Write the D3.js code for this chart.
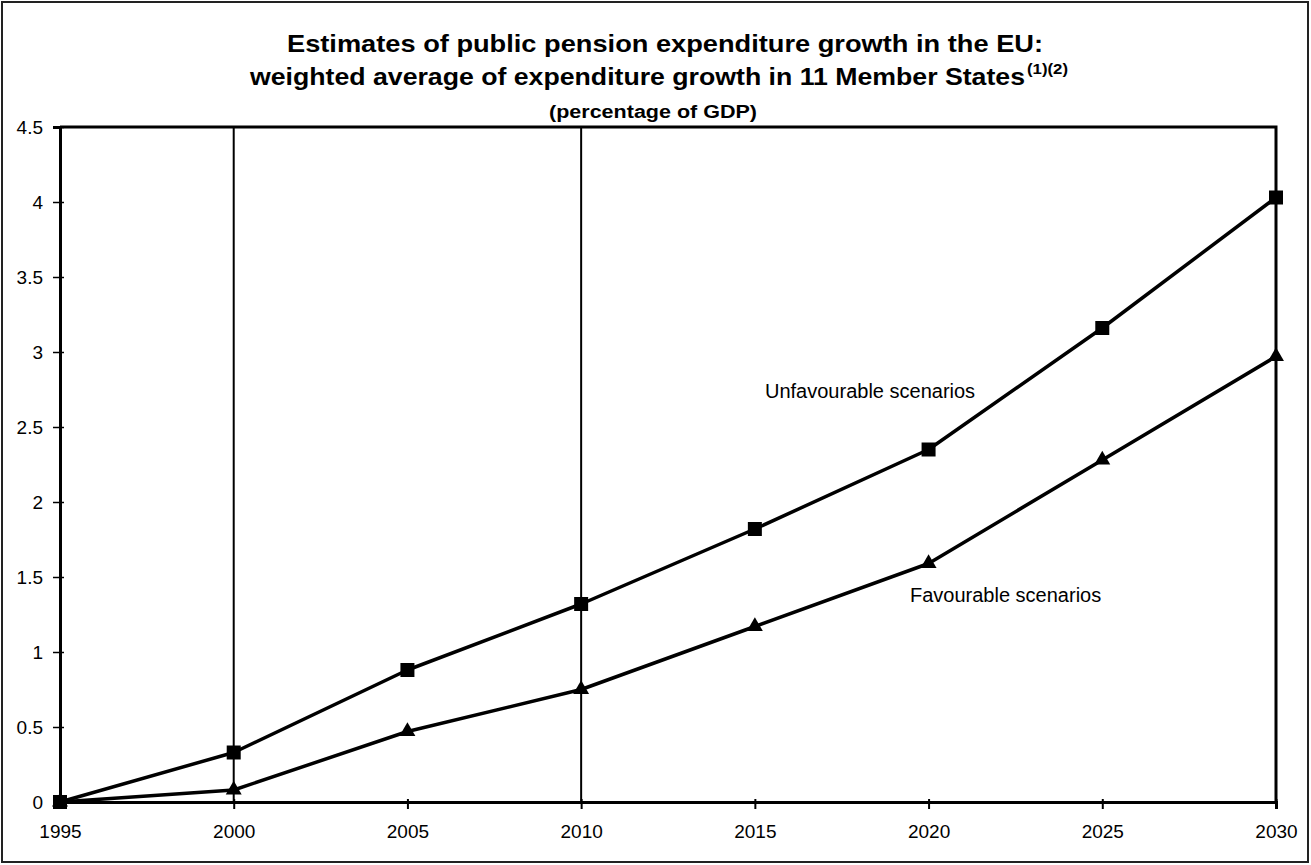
<!DOCTYPE html>
<html>
<head>
<meta charset="utf-8">
<script src="https://cdn.jsdelivr.net/npm/d3@7"></script>
<style>
  html, body { margin: 0; padding: 0; background: #fff; }
  svg { display: block; }
  text { font-family: Arial, "Liberation Sans", sans-serif; fill: #000; }
</style>
</head>
<body>
<svg id="chart" width="1311" height="865"></svg>
<script>
// Years on the horizontal axis
const years = [1995, 2000, 2005, 2010, 2015, 2020, 2025, 2030];
// Expenditure growth, percentage of GDP
const unfavourable = [0, 0.33, 0.88, 1.32, 1.82, 2.35, 3.16, 4.03];
const favourable   = [0, 0.08, 0.47, 0.75, 1.17, 1.59, 2.28, 2.97];
const yTicks = [0, 0.5, 1, 1.5, 2, 2.5, 3, 3.5, 4, 4.5];
const gridYears = [2000, 2010];

const svg = d3.select("#chart");
const W = 1311, H = 865;
const margin = { left: 60, right: 35, top: 127, bottom: 63 };

// outer frame
svg.append("rect")
  .attr("x", 2).attr("y", 2).attr("width", W - 5).attr("height", H - 5)
  .attr("fill", "#fff").attr("stroke", "#222").attr("stroke-width", 2);

const x = d3.scalePoint().domain(years).range([margin.left, W - margin.right]);
const y = d3.scaleLinear().domain([0, 4.5]).range([H - margin.bottom, margin.top]);

// titles
const t1 = svg.append("text").attr("x", 665).attr("y", 52)
  .attr("text-anchor", "middle").attr("font-weight", "bold").attr("font-size", 24)
  .attr("textLength", 756).attr("lengthAdjust", "spacingAndGlyphs")
  .text("Estimates of public pension expenditure growth in the EU:");
svg.append("text").attr("x", 250).attr("y", 85)
  .attr("font-weight", "bold").attr("font-size", 24)
  .attr("textLength", 775).attr("lengthAdjust", "spacingAndGlyphs")
  .text("weighted average of expenditure growth in 11 Member States");
svg.append("text").attr("x", 1027).attr("y", 74)
  .attr("font-weight", "bold").attr("font-size", 14)
  .attr("textLength", 41).attr("lengthAdjust", "spacingAndGlyphs")
  .text("(1)(2)");
svg.append("text").attr("x", 653).attr("y", 118)
  .attr("text-anchor", "middle").attr("font-weight", "bold").attr("font-size", 18)
  .attr("textLength", 208).attr("lengthAdjust", "spacingAndGlyphs")
  .text("(percentage of GDP)");

// vertical grid lines
svg.append("g").selectAll("line").data(gridYears).join("line")
  .attr("x1", d => x(d)).attr("x2", d => x(d))
  .attr("y1", y(4.5)).attr("y2", y(0))
  .attr("stroke", "#000").attr("stroke-width", 2);

// plot frame (top and right edges)
svg.append("path")
  .attr("d", `M${x(1995)},${y(4.5)}H${x(2030)}V${y(0)}`)
  .attr("fill", "none").attr("stroke", "#000").attr("stroke-width", 3);

// axes
const yAxis = svg.append("g").attr("transform", `translate(${margin.left},0)`)
  .call(d3.axisLeft(y).tickValues(yTicks).tickSize(7).tickPadding(9).tickFormat(d3.format("")));
yAxis.select(".domain").attr("stroke-width", 3).attr("stroke", "#000");
yAxis.selectAll(".tick line").attr("x2", 4).attr("x1", -7).attr("stroke-width", 1.5);
yAxis.selectAll(".tick text").attr("font-size", 19).attr("font-family", "Arial, 'Liberation Sans', sans-serif").attr("x", -17);

const xAxis = svg.append("g").attr("transform", `translate(0,${y(0)})`)
  .call(d3.axisBottom(x).tickSize(7).tickPadding(16).tickFormat(d3.format("d")));
xAxis.select(".domain").attr("stroke-width", 3).attr("stroke", "#000");
xAxis.selectAll(".tick line").attr("stroke-width", 2).attr("y1", -3);
xAxis.selectAll(".tick text").attr("font-size", 19).attr("font-family", "Arial, 'Liberation Sans', sans-serif");

// series lines
const line = d3.line().x((d, i) => x(years[i])).y(d => y(d));
[unfavourable, favourable].forEach(s => {
  svg.append("path").datum(s).attr("d", line)
    .attr("fill", "none").attr("stroke", "#000").attr("stroke-width", 3.5)
    .attr("stroke-linejoin", "round");
});

// markers
svg.append("g").selectAll("path").data(unfavourable).join("path")
  .attr("transform", (d, i) => `translate(${x(years[i])},${y(d)})`)
  .attr("d", d3.symbol(d3.symbolSquare, 196)).attr("fill", "#000");
svg.append("g").selectAll("path").data(favourable).join("path")
  .attr("transform", (d, i) => `translate(${x(years[i])},${y(d)})`)
  .attr("d", d3.symbol(d3.symbolTriangle, 110)).attr("fill", "#000");

// series labels
svg.append("text").attr("x", 765).attr("y", 398).attr("font-size", 20)
  .text("Unfavourable scenarios");
svg.append("text").attr("x", 910).attr("y", 602).attr("font-size", 20)
  .text("Favourable scenarios");
</script>
</body>
</html>
